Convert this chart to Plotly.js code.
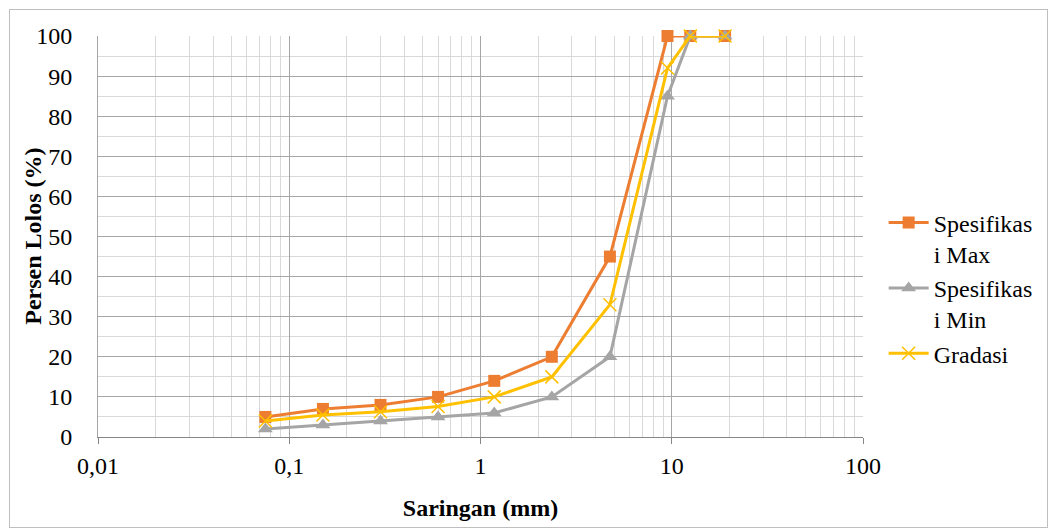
<!DOCTYPE html>
<html><head><meta charset="utf-8">
<script src="https://cdn.plot.ly/plotly-3.0.1.min.js"></script>
<style>
html,body{margin:0;padding:0;background:#fff;}
#wrap{position:relative;width:1050px;height:530px;}
#frame{position:absolute;left:9px;top:9px;width:1039px;height:519px;border:1px solid #bfbfbf;box-sizing:border-box;pointer-events:none;z-index:5;}
#chart{position:absolute;left:0;top:0;width:1050px;height:530px;}
</style></head>
<body>
<div id="wrap"><div id="chart"></div><div id="frame"></div></div>
<script>
const sieve = [0.075, 0.15, 0.3, 0.6, 1.18, 2.36, 4.75, 9.5, 12.5, 19];
const specMax = [5, 7, 8, 10, 14, 20, 45, 100, 100, 100];
const specMin = [2, 3, 4, 5, 6, 10, 20, 85, 100, 100];
const gradasi = [4, 5.5, 6.3, 7.6, 10, 15, 33, 92, 100, 100];
const xTickVals = [0.01, 0.1, 1, 10, 100];
const xTickText = ["0,01", "0,1", "1", "10", "100"];
const names = ["Spesifikas<br>i Max", "Spesifikas<br>i Min", "Gradasi"];
const xTitle = "Saringan (mm)";
const yTitle = "Persen Lolos (%)";

const traces = [
  {x: sieve, y: specMax, name: names[0], mode: "lines+markers", type: "scatter", cliponaxis: false,
   line: {color: "#ED7D31", width: 3}, marker: {symbol: "square", size: 12, color: "#ED7D31"}},
  {x: sieve, y: specMin, name: names[1], mode: "lines+markers", type: "scatter", cliponaxis: false,
   line: {color: "#A5A5A5", width: 3}, marker: {symbol: "triangle-up", size: 13, color: "#A5A5A5"}},
  {x: sieve, y: gradasi, name: names[2], mode: "lines+markers", type: "scatter", cliponaxis: false,
   line: {color: "#FFC000", width: 3}, marker: {symbol: "x-thin-open", size: 13, color: "#FFC000", line: {color: "#FFC000", width: 1.5}}}
];

const font = {family: "Liberation Serif", size: 24, color: "#000"};
const layout = {
  width: 1050, height: 530,
  margin: {l: 98, r: 185, t: 36, b: 93},
  paper_bgcolor: "#fff", plot_bgcolor: "#fff",
  font: font,
  showlegend: true,
  legend: {x: 1.027, y: 0.59, xanchor: "left", yanchor: "top", font: font, tracegroupgap: 0,
           valign: "top", bgcolor: "rgba(0,0,0,0)", itemwidth: 40},
  xaxis: {
    type: "log", range: [-2, 2], tickvals: xTickVals, ticktext: xTickText,
    showgrid: true, gridcolor: "#a6a6a6", gridwidth: 1,
    ticks: "outside", ticklen: 6, tickcolor: "#868686", ticklabelstandoff: 1,
    showline: true, linecolor: "#868686", linewidth: 1,
    zeroline: false, tickfont: font,
    minor: {dtick: "D1", showgrid: true, gridcolor: "#d9d9d9", gridwidth: 1, ticks: ""},
    title: {text: "<b>" + xTitle + "</b>", font: font, standoff: 21}
  },
  yaxis: {
    range: [0, 100], dtick: 10, tick0: 0,
    showgrid: true, gridcolor: "#a6a6a6", gridwidth: 1,
    ticks: "", ticklabelstandoff: 20,
    showline: true, linecolor: "#a6a6a6", linewidth: 1,
    zeroline: false, tickfont: font,
    minor: {dtick: 5, showgrid: true, gridcolor: "#d9d9d9", gridwidth: 1, ticks: ""}
  },
  annotations: [
    {text: "<b>" + yTitle + "</b>", textangle: -90, xref: "paper", yref: "paper",
     x: -0.086, y: 0.5, xanchor: "center", yanchor: "middle", showarrow: false, font: font}
  ]
};
Plotly.newPlot("chart", traces, layout, {displayModeBar: false, staticPlot: true});
</script>
</body></html>
